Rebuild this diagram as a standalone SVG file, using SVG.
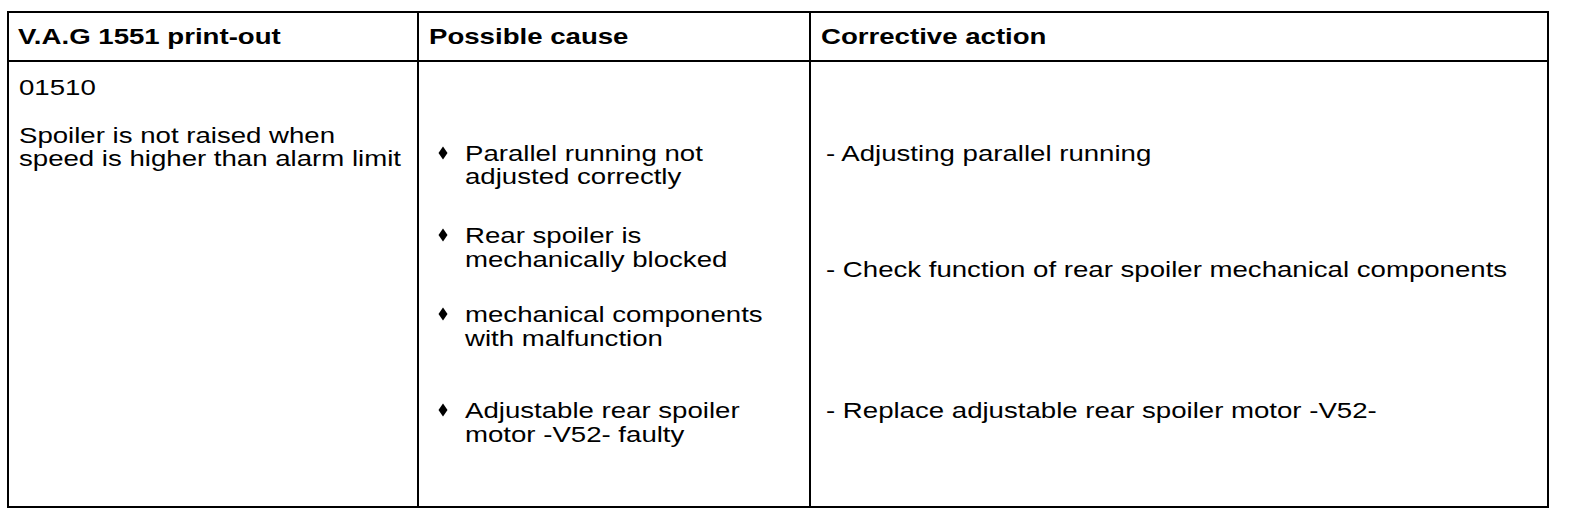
<svg xmlns="http://www.w3.org/2000/svg" xmlns:xlink="http://www.w3.org/1999/xlink" width="1584" height="522" viewBox="0 0 1584 522">
<style>
.t{font-family:"Liberation Sans",Arial,sans-serif;font-size:22px;fill:#000}
.h{font-weight:bold}
.ln{stroke:#000;stroke-width:2;fill:none}
</style>
<defs>
<polygon id="dia" points="0,-6.5 4.5,0 0,6.5 -4.5,0" fill="#000"/>
</defs>
<rect width="1584" height="522" fill="#fff"/>
<g id="grid">
<rect class="ln" x="8" y="12" width="1540" height="495"/>
<line class="ln" x1="8" y1="61" x2="1548" y2="61"/>
<line class="ln" x1="418" y1="12" x2="418" y2="507"/>
<line class="ln" x1="810" y1="12" x2="810" y2="507"/>
</g>
<g id="header">
<g transform="translate(18,0) scale(1.255,1)"><text class="t h" x="0" y="44">V.A.G 1551 print-out</text></g>
<g transform="translate(429,0) scale(1.255,1)"><text class="t h" x="0" y="44">Possible cause</text></g>
<g transform="translate(821,0) scale(1.255,1)"><text class="t h" x="0" y="44">Corrective action</text></g>
</g>
<g id="col1" transform="translate(19,0) scale(1.255,1)">
<text class="t" x="0" y="95">01510</text>
<text class="t" x="0" y="143">Spoiler is not raised when</text>
<text class="t" x="0" y="166">speed is higher than alarm limit</text>
</g>
<g id="bullets">
<use xlink:href="#dia" x="443" y="153"/>
<use xlink:href="#dia" x="443" y="235"/>
<use xlink:href="#dia" x="443" y="314"/>
<use xlink:href="#dia" x="443" y="410"/>
</g>
<g id="col2" transform="translate(465,0) scale(1.255,1)">
<text class="t" x="0" y="161">Parallel running not</text>
<text class="t" x="0" y="184">adjusted correctly</text>
<text class="t" x="0" y="243">Rear spoiler is</text>
<text class="t" x="0" y="267">mechanically blocked</text>
<text class="t" x="0" y="322">mechanical components</text>
<text class="t" x="0" y="346">with malfunction</text>
<text class="t" x="0" y="418">Adjustable rear spoiler</text>
<text class="t" x="0" y="442">motor -V52- faulty</text>
</g>
<g id="col3" transform="translate(826,0) scale(1.255,1)">
<text class="t" x="0" y="161">- Adjusting parallel running</text>
<text class="t" x="0" y="277">- Check function of rear spoiler mechanical components</text>
<text class="t" x="0" y="418">- Replace adjustable rear spoiler motor -V52-</text>
</g>
</svg>
